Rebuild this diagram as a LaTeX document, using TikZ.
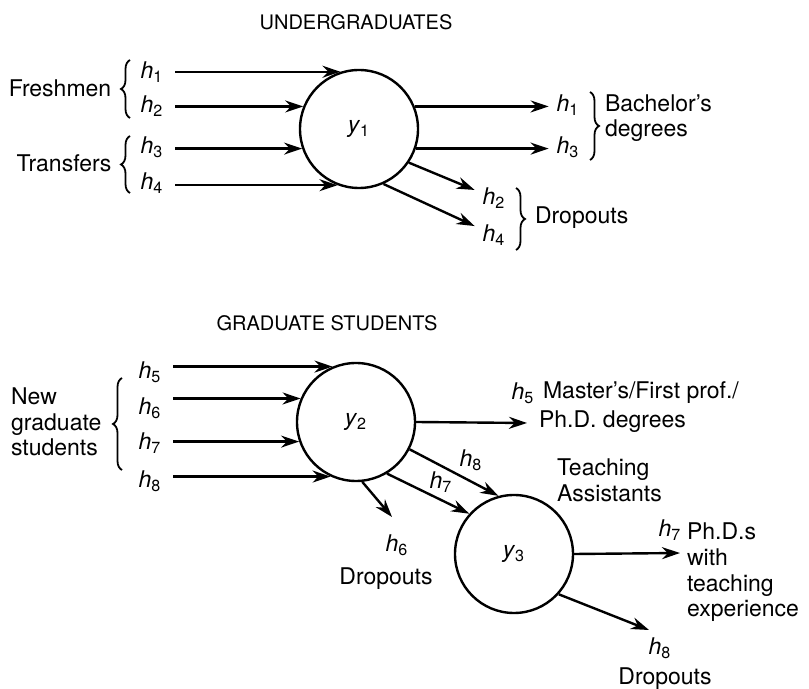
\documentclass[tikz,border=0pt]{standalone}
\usepackage{fontspec}
\setmainfont{TeX Gyre Heros}
\usetikzlibrary{arrows.meta,decorations.pathreplacing}

\newcommand{\hsub}[1]{\textit{h}\textsubscript{#1}}
\newcommand{\ysub}[1]{\textit{y}\textsubscript{#1}}

\tikzset{
  flow/.style={draw,line width=1.2pt,-{Stealth[length=9pt,width=6pt]}},
  grp/.style={decorate,decoration={brace,amplitude=4.5pt},line width=0.9pt},
  ttl/.style={font=\fontsize{10}{12}\selectfont},
}

\begin{document}
\begin{tikzpicture}[x=0.5pt,y=-0.5pt,font=\fontsize{11.5}{12.8}\selectfont]
\useasboundingbox (0,0) rectangle (809,689);

      % undergraduates
      \node[ttl] (t1) at (356,22) {UNDERGRADUATES};
      \node (fresh) at (60,88) {Freshmen};
      \node (trans) at (64,163) {Transfers};

      \begin{scope}[every node/.style={circle,draw,line width=1.2pt,minimum size=59pt,inner sep=0pt}]
        \node (y1) at (359,129) {\ysub{1}};
        \node (y2) at (356,422) {\ysub{2}};
        \node (y3) at (514,554) {\ysub{3}};
      \end{scope}

      \begin{scope}[every node/.style={inner sep=1pt,outer sep=5pt}]
        \node (h1) at (152,72)  {\hsub{1}};
        \node (h2) at (152,106) {\hsub{2}};
        \node (h3) at (152,147) {\hsub{3}};
        \node (h4) at (152,183) {\hsub{4}};
        \node (h5) at (150,372) {\hsub{5}};
        \node (h6) at (150,408) {\hsub{6}};
        \node (h7) at (150,443) {\hsub{7}};
        \node (h8) at (150,481) {\hsub{8}};
      \end{scope}

      \begin{scope}[every node/.style={inner sep=1pt,outer sep=3pt}]
        \node (b1) at (568,105) {\hsub{1}};
        \node (b3) at (568,147) {\hsub{3}};
        \node (d2) at (494,198) {\hsub{2}};
        \node (d4) at (494,235) {\hsub{4}};
      \end{scope}

      \node[anchor=west,align=left] (bach) at (598,118) {Bachelor's\\degrees};
      \node[anchor=west] (drop1) at (528,218) {Dropouts};

      \draw[grp] (130,118) -- (130,60);
      \draw[grp] (130,193) -- (130,136);
      \draw[grp] (590,92) -- (590,160);
      \draw[grp] (516,188) -- (516,250);

      \begin{scope}[every edge/.style={flow}]
        \path (h1.east |- y1.108) edge (y1.108);
        \path (h2.east |- y1.158) edge (y1.158);
        \path (h3.east |- y1.199) edge (y1.199);
        \path (h4.east |- y1.249) edge (y1.249);
        \path (y1.22) edge (b1.west |- y1.22);
        \path (y1.341) edge (b3.west |- y1.341);
        \path (y1.326) edge (d2);
        \path (y1.294) edge (d4);
      \end{scope}

      % graduate students
      \node[ttl] (t2) at (327,323) {GRADUATE STUDENTS};
      \node[anchor=west,align=left] (newgrad) at (4,422) {New\\graduate\\students};
      \draw[grp] (122,470) -- (122,378);

      \coordinate (e5) at (527,423);
      \coordinate (e6) at (392,517);
      \coordinate (e7) at (680,553);
      \coordinate (e8) at (649,630);

      \node (o5) at (523,393) {\hsub{5}};
      \node[anchor=west] (mast) at (536,393) {Master's/First prof./};
      \node[anchor=west] (phd) at (532,422) {Ph.D. degrees};
      \node (m8) at (471,460) {\hsub{8}};
      \node[inner sep=0pt] (m7) at (441,482) {\hsub{7}};
      \node[anchor=west,align=left] (ta) at (550,480) {Teaching\\Assistants};
      \node (o6) at (397,545) {\hsub{6}};
      \node (drop2) at (386,579) {Dropouts};
      \node (o7) at (670,530) {\hsub{7}};
      \node[anchor=north west,align=left] (phds) at (680,516) {Ph.D.s\\with\\teaching\\experience};
      \node (o8) at (660,648) {\hsub{8}};
      \node (drop3) at (665,679) {Dropouts};

      \begin{scope}[every edge/.style={flow}]
        \path (h5.east |- y2.113) edge (y2.113);
        \path (h6.east |- y2.157) edge (y2.157);
        \path (h7.east |- y2.199) edge (y2.199);
        \path (h8.east |- y2.245) edge (y2.245);
        \path (y2.0) edge (e5);
        \path (y2.276) edge (e6);
        \path (y2.333) edge (y3.105);
        \path (y2.301) edge (y3.138);
        \path (y3.0) edge (e7);
        \path (y3.318) edge (e8);
      \end{scope}

    \end{tikzpicture}
\end{document}
